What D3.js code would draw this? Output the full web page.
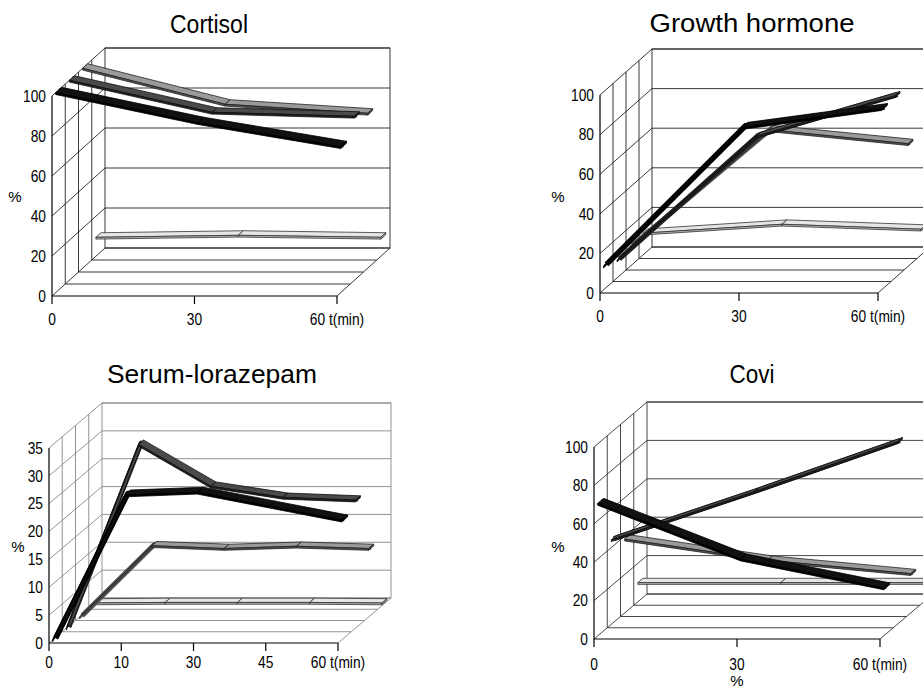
<!DOCTYPE html>
<html>
<head>
<meta charset="utf-8">
<script src="https://cdn.jsdelivr.net/npm/d3@7/dist/d3.min.js"></script>
<style>
  body { margin: 0; background: #fff; }
  svg { display: block; font-family: "Liberation Sans", Arial, sans-serif; }
</style>
</head>
<body>
<div class="main"></div>
<script>
// category labels + ticks
var minutes3 = ["0", "30", "60 t(min)"];
var minutesSerum = ["0", "10", "30", "45", "60 t(min)"];
var pctTicks = [0, 20, 40, 60, 80, 100];
var serumTicks = [0, 5, 10, 15, 20, 25, 30, 35];

// series values, front (s1) to back (s4)
var cortisolS1 = [100, 85, 73];
var cortisolS2 = [100, 84, 82];
var cortisolS3 = [100, 82, 77.5];
var cortisolS4 = [9.5, 10.5, 9.5];

var ghS1 = [12, 82, 91.5];
var ghS2 = [9, 71.5, 92];
var ghS3 = [10, 69, 62];
var ghS4 = [11, 15.5, 13];

var serumS1 = [0, 26, 26.5, 24, 21.5];
var serumS2 = [0, 33, 25.5, 23.5, 23];
var serumS3 = [0, 12.8, 12.3, 12.7, 12.3];
var serumS4 = [0.5, 0.6, 0.6, 0.6, 0.5];

var coviS1 = [69, 40, 25];
var coviS2 = [44, 69, 95];
var coviS3 = [38.5, 27.5, 20.5];
var coviS4 = [10, 10, 10];

// panel layout
var panels = [
  { title: "Cortisol", cats: minutes3, ticks: pctTicks,
    series: [cortisolS1, cortisolS2, cortisolS3, cortisolS4],
    ox: 52, oy: 296, w: 285, h: 200, ddx: 53, ddy: -48,
    tx: 209, ty: 33, tlen: 78, labelY: 325, pctX: 15, pctY: 197, grid: "#222" },
  { title: "Growth hormone", cats: minutes3, ticks: pctTicks,
    series: [ghS1, ghS2, ghS3, ghS4],
    ox: 600, oy: 293, w: 278, h: 198, ddx: 52, ddy: -46,
    tx: 752, ty: 32, tlen: 205, labelY: 322, pctX: 558, pctY: 197, grid: "#222" },
  { title: "Serum-lorazepam", cats: minutesSerum, ticks: serumTicks,
    series: [serumS1, serumS2, serumS3, serumS4],
    ox: 49, oy: 643, w: 289, h: 195, ddx: 53, ddy: -45,
    tx: 212, ty: 383, tlen: 210, labelY: 668, pctX: 18, pctY: 547, grid: "#888" },
  { title: "Covi", cats: minutes3, ticks: pctTicks,
    series: [coviS1, coviS2, coviS3, coviS4],
    ox: 594, oy: 639, w: 286, h: 192, ddx: 53, ddy: -45,
    tx: 752, ty: 383, tlen: 45, labelY: 670, pctX: 558, pctY: 547, grid: "#333",
    extra: { text: "%", x: 737, y: 686 } }
];

// ribbon styles, index 0 = front series
var ribbonStyle = [
  { top: "#111", front: "#000", stroke: "#000", frac: 0.45, body: 5.5 },
  { top: "#4a4a4a", front: "#222", stroke: "#111", frac: 0.38, body: 5 },
  { top: "#9a9a9a", front: "#555", stroke: "#222", frac: 0.38, body: 5 },
  { top: "#e6e6e6", front: "#b5b5b5", stroke: "#333", frac: 0.38, body: 4 }
];

var svg = d3.select(".main")
  .append("svg")
  .attr("width", 923)
  .attr("height", 691);

var poly = function(pts) { return d3.line()(pts) + "Z"; };

//squeeze text to a narrow face
function condense(sel, f) {
  sel.each(function() {
    var L = this.getComputedTextLength();
    d3.select(this).attr("textLength", L * f).attr("lengthAdjust", "spacingAndGlyphs");
  });
}

panels.forEach(function(p) {
  var g = svg.append("g");
  var ymax = p.ticks[p.ticks.length - 1];

  var x = d3.scalePoint().domain(p.cats).range([p.ox, p.ox + p.w]);
  var y = d3.scaleLinear().domain([0, ymax]).range([p.oy, p.oy - p.h]);
  // depth in series slots (4 series)
  var zx = d3.scaleLinear().domain([0, 4]).range([0, p.ddx]);
  var zy = d3.scaleLinear().domain([0, 4]).range([0, p.ddy]);

  var x0 = x(p.cats[0]), x1 = x(p.cats[p.cats.length - 1]);

  var grid = g.append("g")
    .attr("fill", "none")
    .attr("stroke", p.grid)
    .attr("stroke-width", 0.9);

  // back wall
  grid.append("rect")
    .attr("x", x0 + zx(4))
    .attr("y", y(ymax) + zy(4))
    .attr("width", x1 - x0)
    .attr("height", y(0) - y(ymax));

  p.ticks.forEach(function(t) {
    grid.append("line")
      .attr("x1", x0 + zx(4)).attr("y1", y(t) + zy(4))
      .attr("x2", x1 + zx(4)).attr("y2", y(t) + zy(4));
    //side wall
    grid.append("line")
      .attr("x1", x0).attr("y1", y(t))
      .attr("x2", x0 + zx(4)).attr("y2", y(t) + zy(4));
  });

  [1, 2, 3].forEach(function(k) {
    grid.append("line")
      .attr("x1", x0 + zx(k)).attr("y1", y(0) + zy(k))
      .attr("x2", x0 + zx(k)).attr("y2", y(ymax) + zy(k));
    grid.append("line")
      .attr("x1", x0 + zx(k)).attr("y1", y(0) + zy(k))
      .attr("x2", x1 + zx(k)).attr("y2", y(0) + zy(k));
  });

  //floor right edge
  grid.append("line")
    .attr("x1", x1).attr("y1", y(0))
    .attr("x2", x1 + zx(4)).attr("y2", y(0) + zy(4));

  // front axes
  var ax = g.append("g").attr("stroke", "#000").attr("stroke-width", 1.2);
  ax.append("line").attr("x1", x0).attr("y1", y(0)).attr("x2", x0).attr("y2", y(ymax));
  ax.append("line").attr("x1", x0).attr("y1", y(0)).attr("x2", x1).attr("y2", y(0));
  p.cats.forEach(function(c) {
    ax.append("line").attr("x1", x(c)).attr("y1", y(0)).attr("x2", x(c)).attr("y2", y(0) + 8);
  });

  // ribbons, back to front
  var sers = p.series.map(function(v, k) { return { vals: v, k: k }; }).reverse();
  sers.forEach(function(s) {
    var st = ribbonStyle[s.k];
    var zf = s.k + 0.5 - st.frac / 2, zb = s.k + 0.5 + st.frac / 2;
    var th = 1.8;
    var pt = function(i, z) {
      return [x(p.cats[i]) + zx(z), y(s.vals[i]) + zy(z)];
    };
    var rg = g.append("g")
      .attr("stroke", st.stroke)
      .attr("stroke-width", 0.8)
      .attr("stroke-linejoin", "round");

    // solid body so steep parts keep their weight
    rg.append("path")
      .attr("d", d3.line()(s.vals.map(function(v, i) {
        var q = pt(i, s.k + 0.5);
        return [q[0], q[1] + th / 2];
      })))
      .attr("fill", "none")
      .attr("stroke", st.front)
      .attr("stroke-width", st.body);

    for (var i = 0; i < s.vals.length - 1; i++) {
      var a = pt(i, zf), b = pt(i + 1, zf), c = pt(i + 1, zb), d = pt(i, zb);
      rg.append("path").attr("d", poly([a, b, c, d])).attr("fill", st.top);
      rg.append("path")
        .attr("d", poly([a, b, [b[0], b[1] + th], [a[0], a[1] + th]]))
        .attr("fill", st.front);
    }
    var n = s.vals.length - 1;
    var e1 = pt(n, zf), e2 = pt(n, zb);
    rg.append("path")
      .attr("d", poly([e1, e2, [e2[0], e2[1] + th], [e1[0], e1[1] + th]]))
      .attr("fill", st.front);
  });

  // labels
  var yl = g.append("g")
    .selectAll("text")
    .data(p.ticks)
    .join("text")
    .attr("x", x0 - 6)
    .attr("y", function(d) { return y(d); })
    .attr("dy", "0.36em")
    .attr("text-anchor", "end")
    .attr("font-size", 16)
    .text(function(d) { return d; });
  condense(yl, 0.86);

  var xl = g.append("g")
    .selectAll("text")
    .data(p.cats)
    .join("text")
    .attr("x", function(d) { return x(d); })
    .attr("y", p.labelY)
    .attr("text-anchor", "middle")
    .attr("font-size", 16)
    .text(function(d) { return d; });
  condense(xl, 0.86);

  g.append("text")
    .attr("x", p.pctX).attr("y", p.pctY)
    .attr("dy", "0.36em")
    .attr("text-anchor", "middle")
    .attr("font-size", 15)
    .text("%");

  if (p.extra) {
    g.append("text")
      .attr("x", p.extra.x).attr("y", p.extra.y)
      .attr("text-anchor", "middle")
      .attr("font-size", 15)
      .text(p.extra.text);
  }

  g.append("text")
    .attr("x", p.tx).attr("y", p.ty)
    .attr("text-anchor", "middle")
    .attr("font-size", 25)
    .attr("textLength", p.tlen)
    .attr("lengthAdjust", "spacingAndGlyphs")
    .text(p.title);
});
</script>
</body>
</html>
